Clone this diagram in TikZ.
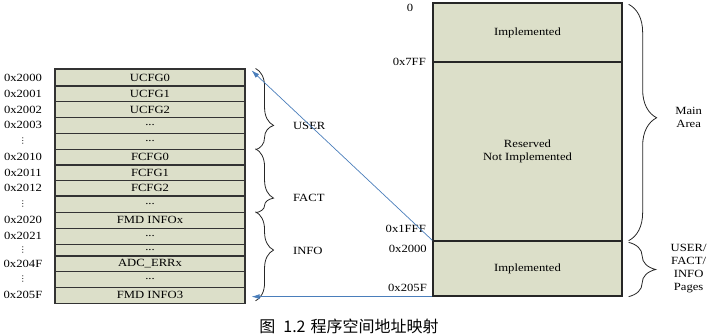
\documentclass[tikz,border=0pt]{standalone}
\usepackage{fontspec}
\setmainfont[FakeStretch=1.15]{Liberation Serif}
\newfontfamily\cjk{Noto Sans CJK SC}
\newfontfamily\symfont{DejaVu Sans}
\usepackage{tikz}
\usetikzlibrary{calc,arrows.meta,decorations.pathreplacing}
\definecolor{cellfill}{HTML}{DCDFC9}
\definecolor{linkblue}{HTML}{4A7EBB}
\newcommand{\celldots}{...}
\newcommand{\rowvdots}{{\symfont\fontsize{8}{8}\selectfont ⋮}}

\begin{document}
\begin{tikzpicture}[x=1pt,y=-1pt,
    font=\fontsize{11}{13.3}\selectfont,
    cell/.style={draw=black!80,line width=1.1pt,fill=cellfill,inner sep=0pt,minimum width=190pt},
    region/.style={draw=black!85,line width=1.3pt,fill=cellfill,inner sep=0pt,minimum width=189pt,align=center},
    addr/.style={inner sep=0pt},
    grp/.style={draw=black!85,line width=0.8pt,decorate,decoration={brace,amplitude=#1}},
    link/.style={draw=linkblue,line width=0.7pt,-{Latex[length=8pt,width=5pt]}}]
  \useasboundingbox (0,0) rectangle (710,336);

  \foreach \ya/\yb/\txt/\adr [count=\i] in {
      69/86/UCFG0/0x2000, 86/101.7/UCFG1/0x2001, 101.7/117.3/UCFG2/0x2002,
      117.3/133.3/\celldots/0x2003, 133.3/149.3/\celldots/\rowvdots,
      149.3/165/FCFG0/0x2010, 165/180.7/FCFG1/0x2011, 180.7/196/FCFG2/0x2012,
      196/212.3/\celldots/\rowvdots, 212.3/228.3/FMD INFOx/0x2020,
      228.3/244.3/\celldots/0x2021, 244.3/256/\celldots/\rowvdots,
      256/271.7/ADC\_ERRx/0x204F, 271.7/287.3/\celldots/\rowvdots,
      287.3/303.3/FMD INFO3/0x205F}{
    \pgfmathsetmacro\rowh{\yb-\ya}
    \pgfmathsetmacro\rowm{(\ya+\yb)/2}
    \node[cell,minimum height=\rowh pt] (row\i) at (150,\rowm) {\txt};
    \node[addr] (adr\i) at (23,\rowm) {\adr};
  }

  \draw[grp=18pt,decoration={aspect=0.70}] ($(row1.north east)+(10,0)$) -- ($(row5.south east)+(10,0)$);
  \draw[grp=18pt,decoration={aspect=0.77}] ($(row6.north east)+(10,0)$) -- ($(row9.south east)+(10,0)$);
  \draw[grp=18pt,decoration={aspect=0.43}] ($(row10.north east)+(10,0)$) -- ($(row15.south east)+(10,-3)$);
  \node[anchor=west] (userLbl) at ($(row1.north east)!0.70!(row5.south east)+(44,0)$) {USER};
  \node[anchor=west] (factLbl) at ($(row6.north east)!0.77!(row9.south east)+(44,0)$) {FACT};
  \node[anchor=west] (infoLbl) at ($(row10.north east)!0.43!(row15.south east)+(44,0)$) {INFO};

  \node[region,minimum height=59pt] (mainImpl) at (527.5,32.5) {Implemented};
  \node[region,minimum height=179pt] (mainRes) at (527.5,151.5) {Reserved\\Not Implemented};
  \node[region,minimum height=55pt] (pageImpl) at (527.5,268.5) {Implemented};

  \node[addr] (a0) at (410,8) {0};
  \node[addr,anchor=east] (a7ff) at (426,62) {0x7FF};
  \node[addr,anchor=east] (a1fff) at (426,229) {0x1FFF};
  \node[addr,anchor=east] (a2000) at (427,249) {0x2000};
  \node[addr,anchor=east] (a205f) at (427,288) {0x205F};

  \draw[grp=28pt,decoration={aspect=0.48}] ($(mainImpl.north east)+(6,2)$) -- ($(mainRes.south east)+(6,-1)$);
  \draw[grp=27pt] ($(pageImpl.north east)+(6,2)$) -- ($(pageImpl.south east)+(6,0)$);
  \node[align=center] (mainLbl) at ($(mainImpl.north east)!0.48!(mainRes.south east)+(66,0)$) {Main\\Area};
  \node[align=center] (pageLbl) at ($(pageImpl.north east)!0.5!(pageImpl.south east)+(66,0)$) {USER/\\FACT/\\INFO\\Pages};

  \coordinate (userEnd) at ($(row1.north east)+(6,2)$);
  \coordinate (infoEnd) at ($(row15.east)+(6,0)$);
  \draw[link] (pageImpl.north west) -- (userEnd);
  \draw[link] (pageImpl.south west) -- (pageImpl.south west -| infoEnd);

  \node (caption) at (349,326) {\cjk\fontsize{16}{18}\selectfont 图\hspace{8pt}1.2\hspace{5pt}程序空间地址映射};
\end{tikzpicture}
\end{document}
